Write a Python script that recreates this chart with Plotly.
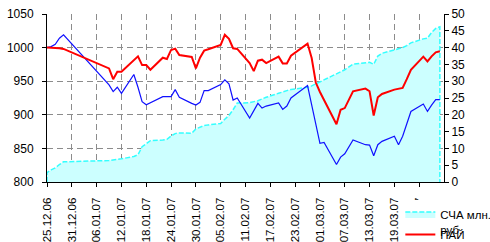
import plotly.graph_objects as go

DATES = ["2006-12-25","2006-12-26","2006-12-27","2006-12-28","2006-12-29",
         "2007-01-09","2007-01-10","2007-01-11","2007-01-12",
         "2007-01-15","2007-01-16","2007-01-17","2007-01-18","2007-01-19",
         "2007-01-22","2007-01-23","2007-01-24","2007-01-25","2007-01-26",
         "2007-01-29","2007-01-30","2007-01-31","2007-02-01","2007-02-02",
         "2007-02-05","2007-02-06","2007-02-07","2007-02-08","2007-02-09",
         "2007-02-12","2007-02-13","2007-02-14","2007-02-15","2007-02-16",
         "2007-02-19","2007-02-20","2007-02-21","2007-02-22",
         "2007-02-26","2007-02-27","2007-02-28","2007-03-01","2007-03-02",
         "2007-03-05","2007-03-06","2007-03-07","2007-03-09",
         "2007-03-12","2007-03-13","2007-03-14","2007-03-15","2007-03-16",
         "2007-03-19","2007-03-20","2007-03-21","2007-03-22","2007-03-23",
         "2007-03-26","2007-03-27","2007-03-28","2007-03-29","2007-03-30"]

PAI = [1000, 1000, 999.5, 999, 998,
       969, 953, 964, 964,
       981, 987, 974, 974, 967,
       985, 983, 996.5, 998.5, 989,
       986, 969, 985, 995.5, 997.5,
       1004, 1019, 1013, 999, 998,
       977, 965, 980.5, 982, 977,
       986.5, 976.5, 976.5, 988,
       1006, 984.5, 948, 934, 922,
       886, 907.5, 910, 935,
       939, 935, 899, 926, 931,
       937.5, 939, 940, 953, 967,
       986.5, 979.5, 987, 993, 994.5]

INDEX = [1000, 1001.5, 1005, 1014, 1019,
         944.5, 934.5, 941, 932,
         960, 941, 919.5, 915, 918,
         927, 927, 927, 937.5, 926,
         917, 914.5, 918.5, 936, 936,
         945, 952, 946, 922, 925,
         895, 906, 917, 910, 913,
         917.5, 908, 913, 925,
         943.5, 915, 886, 857.5, 859,
         826, 837, 842, 862.5,
         855.5, 855, 839, 855.5, 860.5,
         868, 855.5, 868, 886, 905,
         916, 905, 914.5, 922.5, 922.5]

SCHA = [2.8, 3.6, 4.2, 5.2, 6.0,
        6.4, 6.5, 6.6, 6.9,
        7.6, 8.1, 10.5, 11.5, 12.3,
        12.5, 12.7, 13.7, 14.4, 14.6,
        14.5, 15.8, 16.3, 16.8, 17.0,
        17.4, 18.7, 19.8, 21.5, 23.5,
        23.6, 23.8, 24.2, 24.7, 25.2,
        26.4, 26.9, 27.2, 27.5,
        28.2, 28.6, 29.2, 29.9, 30.5,
        32.3, 33.0, 33.4, 35.1,
        35.6, 35.6, 35.0, 37.5, 38.3,
        39.3, 39.6, 40.0, 40.6, 41.4,
        42.6, 42.8, 44.5, 45.7, 46.2]

TICK_DATES = ["2006-12-25","2006-12-31","2007-01-06","2007-01-12","2007-01-18",
              "2007-01-24","2007-01-30","2007-02-05","2007-02-11","2007-02-17",
              "2007-02-23","2007-03-01","2007-03-07","2007-03-13","2007-03-19",
              "2007-03-25"]
TICK_LABELS = ["25.12.06","31.12.06","06.01.07","12.01.07","18.01.07",
               "24.01.07","30.01.07","05.02.07","11.02.07","17.02.07",
               "23.02.07","01.03.07","07.03.07","13.03.07","19.03.07",
               "25.03.07"]

GRID = "#8c8c8c"
FONT = "Liberation Sans, Arial, sans-serif"

fig = go.Figure()

# area (СЧА) on base axis (right side), closed polygon down to zero
fig.add_trace(go.Scatter(
    x=[DATES[0]] + DATES + [DATES[-1]],
    y=[0] + SCHA + [0],
    mode="lines", fill="toself", fillcolor="#ccffff",
    line=dict(color="#33ffff", width=1.5, dash="5px,2px"),
    name="СЧА млн.<br>руб.", yaxis="y", hoverinfo="skip", legend="legend"))

fig.add_trace(go.Scatter(
    x=DATES, y=INDEX, mode="lines",
    line=dict(color="#1010ff", width=1.2),
    name="Индекс", showlegend=False, yaxis="y2"))

fig.add_trace(go.Scatter(
    x=DATES, y=PAI, mode="lines",
    line=dict(color="#ff0000", width=2),
    name="ПАЙ", yaxis="y2", legend="legend2"))

fig.update_layout(
    width=490, height=242,
    margin=dict(l=47, r=46, t=14, b=60, autoexpand=False),
    paper_bgcolor="white", plot_bgcolor="white",
    font=dict(family=FONT, size=12, color="black"),
    showlegend=True,
    legend=dict(x=0.89, y=-0.108, xanchor="left", yanchor="top",
                bgcolor="white", font=dict(family=FONT, size=11.5, color="black"),
                itemwidth=30, valign="top", entrywidth=43, borderwidth=0),
    legend2=dict(x=0.89, y=-0.312, xanchor="left", yanchor="middle",
                 bgcolor="rgba(0,0,0,0)", font=dict(family=FONT, size=11.5, color="black"),
                 itemwidth=30, borderwidth=0),
    xaxis=dict(type="date", range=["2006-12-25", "2007-03-31"],
               tickvals=TICK_DATES, ticktext=TICK_LABELS, tickangle=-90,
               ticks="outside", ticklen=4, tickcolor="black",
               showline=True, linecolor="black", linewidth=1,
               showgrid=True, gridcolor=GRID, gridwidth=1, griddash="6px,4px",
               zeroline=False, ticklabelstandoff=6, automargin=False,
               tickfont=dict(family=FONT, size=11.5)),
    yaxis=dict(range=[0, 50], dtick=5, side="right",
               ticks="outside", ticklen=4, tickcolor="black",
               showline=True, linecolor="black", linewidth=1,
               showgrid=False, zeroline=False, automargin=False,
               tickfont=dict(family=FONT, size=12)),
    yaxis2=dict(range=[800, 1050], dtick=50, side="left", overlaying="y",
                ticks="outside", ticklen=4, tickcolor="black",
                showline=True, linecolor="black", linewidth=1,
                showgrid=True, gridcolor=GRID, gridwidth=1, griddash="6px,4px",
                zeroline=False, ticklabelstandoff=6, automargin=False,
                tickfont=dict(family=FONT, size=12)),
)

fig.write_html("out.html", config={"displayModeBar": False},
               post_script="document.body.style.margin='0';document.body.style.overflow='hidden';")
